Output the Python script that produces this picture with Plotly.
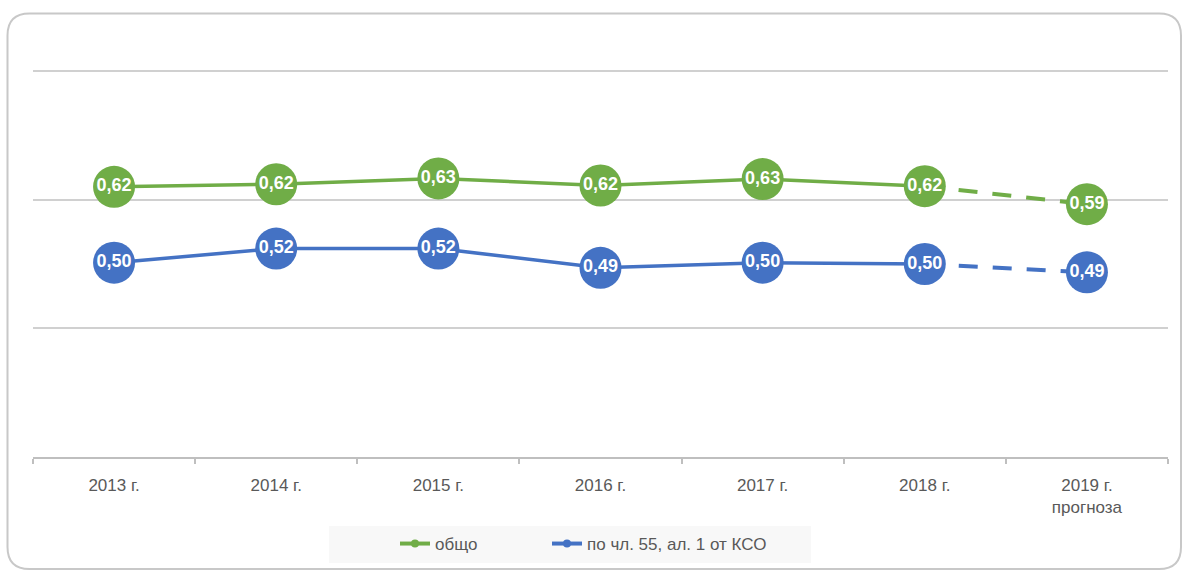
import plotly.graph_objects as go

# ---------------- data ----------------
categories = ["2013 г.", "2014 г.", "2015 г.", "2016 г.", "2017 г.", "2018 г.", "2019 г.<br>прогноза"]
total_vals = [0.620, 0.624, 0.633, 0.622, 0.632, 0.621, 0.593]        # общо
art55_vals = [0.502, 0.524, 0.524, 0.494, 0.502, 0.500, 0.487]        # по чл. 55, ал. 1 от КСО
series_names = ["общо", "по чл. 55, ал. 1 от КСО"]
forecast_from = 5  # index of last actual year (2018); dashed segment after it

# ---------------- style ----------------
GREEN = "#70AD47"
BLUE = "#4472C4"
W, H = 1182, 571
ML, MR, MT, MB = 33, 14, 66, 114
PW, PH = W - ML - MR, H - MT - MB
Y_MIN = 0.2
Y_MAX = 0.8 + 5 * 0.6 / (PH - 5)  # small headroom so the 0.8 gridline is drawn


def px(x):
    return (x - ML) / PW


def py(y):
    return (H - MB - y) / PH


def cx(x):
    return x / W


def cy(y):
    return 1 - y / H


def fmt(v):
    return f"{v:.2f}".replace(".", ",")


FONT = "Liberation Sans, Arial, sans-serif"
fig = go.Figure()

for vals, color in [(total_vals, GREEN), (art55_vals, BLUE)]:
    fig.add_trace(go.Scatter(
        x=categories[:forecast_from + 1], y=vals[:forecast_from + 1], mode="lines",
        line=dict(color=color, width=3.5), showlegend=False, hoverinfo="skip"))
    fig.add_trace(go.Scatter(
        x=categories[forecast_from:], y=vals[forecast_from:], mode="lines",
        line=dict(color=color, width=4, dash="19px,15px"), showlegend=False, hoverinfo="skip"))

for vals, color in [(total_vals, GREEN), (art55_vals, BLUE)]:
    fig.add_trace(go.Scatter(
        x=categories, y=vals, mode="markers+text",
        marker=dict(color=color, size=42, line=dict(width=0)),
        text=[fmt(v) for v in vals], textposition="middle center",
        textfont=dict(color="white", size=18, family=FONT, weight="bold"),
        showlegend=False))

# legend entries (one legend each, positioned like the original)
for name, color, leg in zip(series_names, [GREEN, BLUE], ["legend", "legend2"]):
    fig.add_trace(go.Scatter(
        x=[None], y=[None], mode="lines+markers", name=name, legend=leg,
        line=dict(color=color, width=4), marker=dict(color=color, size=8)))

# rounded border around chart
x0, x1, y0, y1 = px(7.5), px(1181), py(13.5), py(569)
rx, ry = 22 / PW, 22 / PH
path = (f"M {x0+rx},{y0} L {x1-rx},{y0} Q {x1},{y0} {x1},{y0-ry} "
        f"L {x1},{y1+ry} Q {x1},{y1} {x1-rx},{y1} "
        f"L {x0+rx},{y1} Q {x0},{y1} {x0},{y1+ry} "
        f"L {x0},{y0-ry} Q {x0},{y0} {x0+rx},{y0} Z")

shapes = [
    dict(type="path", xref="paper", yref="paper", path=path,
         line=dict(color="#c8c8c8", width=2), fillcolor="rgba(0,0,0,0)", layer="below"),
    dict(type="rect", xref="paper", yref="paper", x0=px(329), x1=px(811), y0=py(526), y1=py(563),
         line=dict(width=0), fillcolor="#f8f8f8", layer="below"),
]

legend_common = dict(orientation="h", xref="container", yref="container",
                     yanchor="middle", y=cy(544), xanchor="left", bgcolor="rgba(0,0,0,0)",
                     font=dict(size=17, color="#595959", family=FONT))

fig.update_layout(
    width=W, height=H, autosize=False,
    margin=dict(l=ML, r=MR, t=MT, b=MB, autoexpand=False),
    paper_bgcolor="white", plot_bgcolor="white",
    font=dict(family=FONT, color="#595959"),
    shapes=shapes,
    showlegend=True,
    legend=dict(x=cx(395), **legend_common),
    legend2=dict(x=cx(547), **legend_common),
    xaxis=dict(type="category", showgrid=False, showline=True, linecolor="#bfbfbf", linewidth=1.5,
               ticks="outside", tickson="boundaries", ticklen=5, tickcolor="#bfbfbf", tickwidth=1.5,
               tickfont=dict(size=17, color="#595959"), ticklabelstandoff=12, automargin=False,
               range=[-0.5, 6.5], fixedrange=True),
    yaxis=dict(range=[Y_MIN, Y_MAX], dtick=0.2, tick0=0.2, showticklabels=False, showgrid=True,
               gridcolor="#d0d0d0", gridwidth=1.5, zeroline=False, showline=False, fixedrange=True,
               automargin=False),
)

fig.write_html("out.html", config={"displayModeBar": False},
               post_script="document.body.style.margin='0';document.body.style.overflow='hidden';")
